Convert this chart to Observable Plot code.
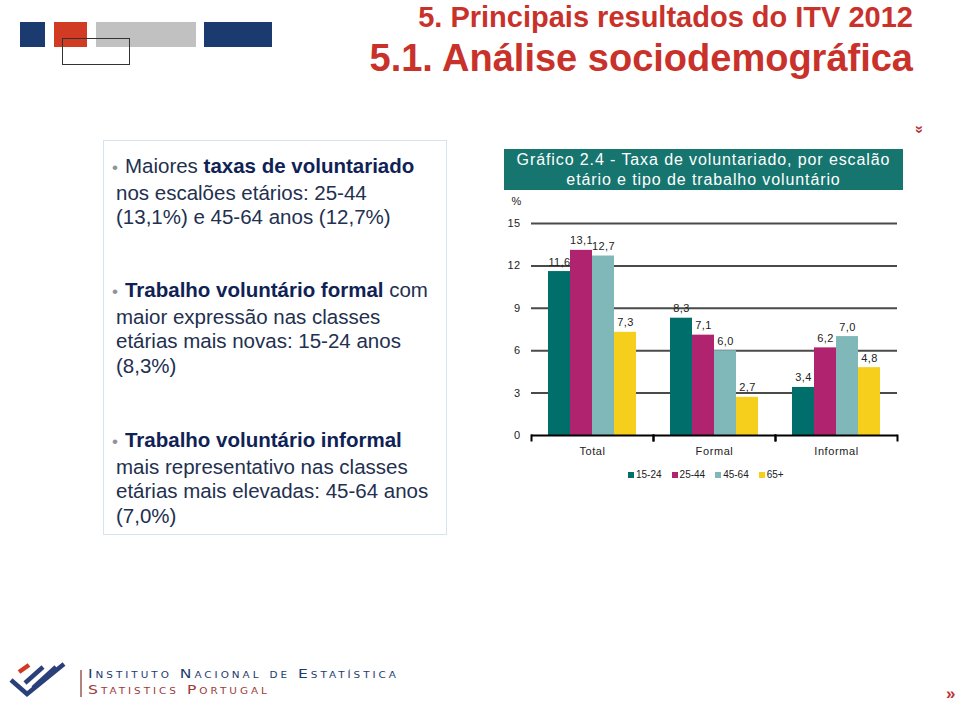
<!DOCTYPE html>
<html>
<head>
<meta charset="utf-8">
<script src="https://cdn.jsdelivr.net/npm/d3@7"></script>
<script src="https://cdn.jsdelivr.net/npm/@observablehq/plot@0.6"></script>
<style>
  html, body { margin: 0; padding: 0; background: #fff; }
  #page { position: relative; width: 960px; height: 710px; overflow: hidden; background: #fff;
          font-family: "Liberation Sans", Arial, Helvetica, sans-serif; }
  .abs { position: absolute; }
  .h1 { right: 47px; top: 3px; font-size: 29px; line-height: 29px; font-weight: bold; color: #c9322a; white-space: nowrap; }
  .h2 { right: 47px; top: 39px; font-size: 38px; line-height: 38px; font-weight: bold; color: #c9322a; white-space: nowrap; }
  #leftbox { left: 103px; top: 140px; width: 342px; height: 393px; border: 1.5px solid #d6e4ec; }
  .para { position: absolute; left: 116px; font-size: 20.5px; line-height: 24.6px; color: #23304f; white-space: nowrap; }
  .para b { color: #0f2255; }
  .bul { color: #8d929c; margin-left: -4px; margin-right: 7px; font-size: 17px; }
  #ctitle { left: 504px; top: 149px; width: 399px; height: 41px; background: #17756f; color: #fff;
            font-size: 16px; line-height: 20px; letter-spacing: 0.9px; text-align: center; padding-top: 1px; box-sizing: border-box; }
  #chart { position: absolute; left: 495px; top: 195px; }
  #chart svg text { letter-spacing: 0.4px; }
  #chart svg g[aria-label="fx-axis tick label"] text { font-size: 11px; letter-spacing: 0.6px; }
  #legend { position: absolute; top: 469px; left: 628px; display: flex; align-items: center; font-size: 10px; color: #222; white-space: nowrap; }
  #legend .it { display: flex; align-items: center; margin-right: 10px; }
  #legend .sw { width: 6px; height: 6px; margin-right: 2px; }
  .ine { position: absolute; left: 88px; font-family: "DejaVu Sans", sans-serif; font-variant: small-caps; font-size: 12px;
         letter-spacing: 2.3px; transform: scaleX(1.3); transform-origin: left center; white-space: nowrap; line-height: 13px; }
  .chev { position: absolute; color: #b8353a; font-weight: bold; }
</style>
</head>
<body>
<div id="page">
  <!-- header decoration -->
  <div class="abs" style="left:20px;top:22px;width:25px;height:25px;background:#1b3a6f"></div>
  <div class="abs" style="left:54px;top:22px;width:33px;height:25px;background:#d13a23"></div>
  <div class="abs" style="left:96px;top:22px;width:100px;height:25px;background:#c1c1c1"></div>
  <div class="abs" style="left:204px;top:22px;width:68px;height:25px;background:#1b3a6f"></div>
  <div class="abs" style="left:62px;top:38px;width:66px;height:25px;border:1px solid #333"></div>

  <div class="abs h1">5. Principais resultados do ITV 2012</div>
  <div class="abs h2">5.1. Análise sociodemográfica</div>

  <div class="chev" style="left:916px;top:121px;font-size:15px;transform:rotate(90deg);">»</div>

  <!-- left panel -->
  <div id="leftbox" class="abs"></div>
  <div class="para" style="top:154px"><span class="bul">•</span>Maiores <b>taxas de voluntariado</b><br>nos escalões etários: 25-44<br>(13,1%) e 45-64 anos (12,7%)</div>
  <div class="para" style="top:278px"><span class="bul">•</span><b>Trabalho voluntário formal</b> com<br>maior expressão nas classes<br>etárias mais novas: 15-24 anos<br>(8,3%)</div>
  <div class="para" style="top:428px"><span class="bul">•</span><b>Trabalho voluntário informal</b><br>mais representativo nas classes<br>etárias mais elevadas: 45-64 anos<br>(7,0%)</div>

  <!-- chart -->
  <div id="ctitle" class="abs">Gráfico 2.4 - Taxa de voluntariado, por escalão<br>etário e tipo de trabalho voluntário</div>
  <div id="chart"></div>
  <div id="legend"></div>

  <!-- footer -->
  <svg class="abs" style="left:0;top:650px" width="80" height="60" viewBox="0 650 80 60">
    <line x1="19" y1="672" x2="29" y2="665" stroke="#d13a23" stroke-width="4.5"/>
    <line x1="25" y1="683" x2="43" y2="667" stroke="#2b3f7a" stroke-width="4.5"/>
    <line x1="33" y1="688" x2="56" y2="667" stroke="#2b3f7a" stroke-width="4.5"/>
    <polyline points="11,680 27,694 64,664" fill="none" stroke="#2b3f7a" stroke-width="4.5"/>
  </svg>
  <div class="abs" style="left:80px;top:670px;width:1.5px;height:27px;background:#b5837d"></div>
  <div class="ine" style="top:668px;color:#1e3b6f">Instituto Nacional de Estatística</div>
  <div class="ine" style="top:684px;color:#9b3b36">Statistics Portugal</div>
  <div class="chev" style="left:946px;top:684px;font-size:17px;">»</div>
</div>

<script>
const groups = ["Total", "Formal", "Informal"];
const ages = ["15-24", "25-44", "45-64", "65+"];
const totalValues = [11.6, 13.1, 12.7, 7.3];
const formalValues = [8.3, 7.1, 6.0, 2.7];
const informalValues = [3.4, 6.2, 7.0, 4.8];
const yTicks = [0, 3, 6, 9, 12, 15];
const gridTicks = [3, 6, 9, 12, 15];
const ageColors = ["#006f6c", "#b0246f", "#80b8ba", "#f5cf1b"];
const yUnit = ["%"];

const seriesByGroup = [totalValues, formalValues, informalValues];
const data = groups.flatMap((g, i) => ages.map((a, j) => ({group: g, age: a, value: seriesByGroup[i][j]})));
const fmt = v => v.toFixed(1).replace(".", ",");

const chart = Plot.plot({
  width: 410,
  height: 266,
  marginLeft: 35,
  marginRight: 7,
  marginTop: 28,
  marginBottom: 26,
  style: {fontFamily: "'Liberation Sans', Arial, sans-serif", fontSize: "11px", color: "#222", background: "transparent", overflow: "visible"},
  fx: {domain: groups, padding: 0, label: null, axis: "bottom", tickSize: 0, tickPadding: 12},
  x: {domain: ages, paddingInner: 0, paddingOuter: 0.75, axis: null},
  y: {domain: [0, 15], ticks: yTicks, tickSize: 0, tickPadding: 11, label: null, tickFormat: d => String(d)},
  color: {domain: ages, range: ageColors},
  marks: [
    Plot.ruleY(gridTicks, {stroke: "#4a4a4a", strokeWidth: 2}),
    Plot.barY(data, {fx: "group", x: "age", y: "value", fill: "age"}),
    Plot.text(data, {fx: "group", x: "age", y: "value", text: d => fmt(d.value), dy: -6, lineAnchor: "bottom", fill: "#222"}),
    Plot.ruleY([0], {stroke: "#000", strokeWidth: 2}),
    Plot.frame({anchor: "left", insetTop: 212, insetBottom: -5, stroke: "#000", strokeWidth: 2}),
    Plot.frame({anchor: "right", insetTop: 212, insetBottom: -5, stroke: "#000", strokeWidth: 2}),
    Plot.text(yUnit, {fx: () => groups[0], text: d => d, frameAnchor: "top-left", dx: -15, dy: -22, textAnchor: "middle", lineAnchor: "middle", fill: "#222"})
  ]
});
document.getElementById("chart").appendChild(chart);

const legend = document.getElementById("legend");
ages.forEach((a, i) => {
  const it = document.createElement("div");
  it.className = "it";
  const sw = document.createElement("span");
  sw.className = "sw";
  sw.style.background = ageColors[i];
  const t = document.createElement("span");
  t.textContent = a;
  it.appendChild(sw);
  it.appendChild(t);
  legend.appendChild(it);
});
</script>
</body>
</html>
